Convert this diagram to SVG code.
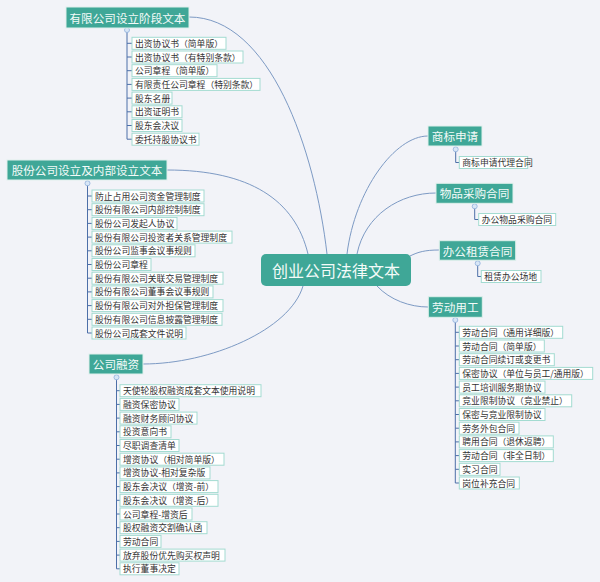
<svg xmlns="http://www.w3.org/2000/svg" width="600" height="582" viewBox="0 0 600 582">
<style>
.n{fill:#3fa797;stroke:#dff0ec;stroke-width:1}
.nt{fill:#f4fbf9;font-family:"Noto Sans CJK SC","Noto Sans",sans-serif;font-size:11.6px;text-anchor:middle;dominant-baseline:central}
.ct{font-size:16px}
.i{fill:#ffffff;stroke:#a3dbd1;stroke-width:1}
.it{fill:#333333;font-family:"Noto Sans CJK SC","Noto Sans",sans-serif;font-size:8.8px;dominant-baseline:central}
.c{fill:none;stroke:#7d9ac4;stroke-width:1}
.b{fill:none;stroke:#4d6fa8;stroke-width:1}
.d{fill:#d8e6f6;stroke:#8fb0dc;stroke-width:0.8}
</style>
<rect x="0" y="0" width="600" height="582" fill="#f2f3f8"/>
<g id="connectors">
<path class="c" d="M189,17 C270,17 315,150 327,254"/>
<path class="c" d="M167,170 C250,170 295,200 308,254"/>
<path class="c" d="M428,136 C395,136 355,190 347,254"/>
<path class="c" d="M436,193 C400,193 365,215 357,254"/>
<path class="c" d="M439,250 C425,250 418,252 410,256"/>
<path class="c" d="M377,286 C390,300 410,307 428,307"/>
<path class="c" d="M303,286 C290,330 210,364 143,364"/>
<path class="b" d="M127,30 V139.2 M127,43.3 H132 M127,57 H132 M127,70.7 H132 M127,84.4 H132 M127,98.1 H132 M127,111.8 H132 M127,125.5 H132 M127,139.2 H132"/>
<path class="b" d="M87.5,183.3 V333 M87.5,196 H92 M87.5,209.7 H92 M87.5,223.4 H92 M87.5,237.1 H92 M87.5,250.8 H92 M87.5,264.5 H92 M87.5,278.2 H92 M87.5,291.9 H92 M87.5,305.6 H92 M87.5,319.3 H92 M87.5,333 H92"/>
<path class="b" d="M116.5,377.3 V568.8 M116.5,390.7 H120 M116.5,404.4 H120 M116.5,418.1 H120 M116.5,431.8 H120 M116.5,445.5 H120 M116.5,459.2 H120 M116.5,472.9 H120 M116.5,486.6 H120 M116.5,500.3 H120 M116.5,514 H120 M116.5,527.7 H120 M116.5,541.4 H120 M116.5,555.1 H120 M116.5,568.8 H120"/>
<path class="b" d="M455.7,149.3 V162.5 H459.3"/>
<path class="b" d="M474.7,206.3 V219.5 H478.7"/>
<path class="b" d="M477.7,263.3 V276.5 H481.3"/>
<path class="b" d="M455.3,320 V483 M455.3,332.3 H459.3 M455.3,346 H459.3 M455.3,359.7 H459.3 M455.3,373.4 H459.3 M455.3,387.1 H459.3 M455.3,400.8 H459.3 M455.3,414.5 H459.3 M455.3,428.2 H459.3 M455.3,441.9 H459.3 M455.3,455.6 H459.3 M455.3,469.3 H459.3 M455.3,483 H459.3"/>
<circle class="d" cx="127" cy="30" r="2.5"/>
<circle class="d" cx="87.5" cy="183.3" r="2.5"/>
<circle class="d" cx="116.5" cy="377.3" r="2.5"/>
<circle class="d" cx="455.7" cy="149.3" r="2.5"/>
<circle class="d" cx="474.7" cy="206.3" r="2.5"/>
<circle class="d" cx="477.7" cy="263.3" r="2.5"/>
<circle class="d" cx="455.3" cy="320" r="2.5"/>
</g>
<g id="center">
<rect class="n" x="261" y="254" width="150" height="32" rx="5" style="stroke:none"/>
<text class="nt ct" x="336" y="270">创业公司法律文本</text>
</g>
<g id="youxian">
<rect class="n" x="66" y="7" width="123" height="21"/>
<text class="nt" x="127.5" y="17.5">有限公司设立阶段文本</text>
<rect class="i" x="132" y="37.3" width="94" height="12"/><text class="it" x="135" y="43.3">出资协议书（简单版）</text>
<rect class="i" x="132" y="51" width="111" height="12"/><text class="it" x="135" y="57">出资协议书（有特别条款）</text>
<rect class="i" x="132" y="64.7" width="85" height="12"/><text class="it" x="135" y="70.7">公司章程（简单版）</text>
<rect class="i" x="132" y="78.4" width="128" height="12"/><text class="it" x="135" y="84.4">有限责任公司章程（特别条款）</text>
<rect class="i" x="132" y="92.1" width="40" height="12"/><text class="it" x="135" y="98.1">股东名册</text>
<rect class="i" x="132" y="105.8" width="50" height="12"/><text class="it" x="135" y="111.8">出资证明书</text>
<rect class="i" x="132" y="119.5" width="50" height="12"/><text class="it" x="135" y="125.5">股东会决议</text>
<rect class="i" x="132" y="133.2" width="67" height="12"/><text class="it" x="135" y="139.2">委托持股协议书</text>
</g>
<g id="gufen">
<rect class="n" x="7" y="160" width="160" height="20"/>
<text class="nt" x="87" y="170">股份公司设立及内部设立文本</text>
<rect class="i" x="92" y="190" width="112" height="12"/><text class="it" x="95" y="196">防止占用公司资金管理制度</text>
<rect class="i" x="92" y="203.7" width="112" height="12"/><text class="it" x="95" y="209.7">股份有限公司内部控制制度</text>
<rect class="i" x="92" y="217.4" width="85" height="12"/><text class="it" x="95" y="223.4">股份公司发起人协议</text>
<rect class="i" x="92" y="231.1" width="140" height="12"/><text class="it" x="95" y="237.1">股份有限公司投资者关系管理制度</text>
<rect class="i" x="92" y="244.8" width="103" height="12"/><text class="it" x="95" y="250.8">股份公司监事会议事规则</text>
<rect class="i" x="92" y="258.5" width="59" height="12"/><text class="it" x="95" y="264.5">股份公司章程</text>
<rect class="i" x="92" y="272.2" width="131" height="12"/><text class="it" x="95" y="278.2">股份有限公司关联交易管理制度</text>
<rect class="i" x="92" y="285.9" width="121" height="12"/><text class="it" x="95" y="291.9">股份有限公司董事会议事规则</text>
<rect class="i" x="92" y="299.6" width="131" height="12"/><text class="it" x="95" y="305.6">股份有限公司对外担保管理制度</text>
<rect class="i" x="92" y="313.3" width="130" height="12"/><text class="it" x="95" y="319.3">股份有限公司信息披露管理制度</text>
<rect class="i" x="92" y="327" width="94" height="12"/><text class="it" x="95" y="333">股份公司成套文件说明</text>
</g>
<g id="rongzi">
<rect class="n" x="89" y="354" width="54" height="20"/>
<text class="nt" x="116" y="364">公司融资</text>
<rect class="i" x="120" y="384.7" width="141" height="12"/><text class="it" x="123" y="390.7">天使轮股权融资成套文本使用说明</text>
<rect class="i" x="120" y="398.4" width="59" height="12"/><text class="it" x="123" y="404.4">融资保密协议</text>
<rect class="i" x="120" y="412.1" width="77" height="12"/><text class="it" x="123" y="418.1">融资财务顾问协议</text>
<rect class="i" x="120" y="425.8" width="51" height="12"/><text class="it" x="123" y="431.8">投资意向书</text>
<rect class="i" x="120" y="439.5" width="59" height="12"/><text class="it" x="123" y="445.5">尽职调查清单</text>
<rect class="i" x="120" y="453.2" width="104" height="12"/><text class="it" x="123" y="459.2">增资协议（相对简单版）</text>
<rect class="i" x="120" y="466.9" width="90" height="12"/><text class="it" x="123" y="472.9">增资协议-相对复杂版</text>
<rect class="i" x="120" y="480.6" width="98" height="12"/><text class="it" x="123" y="486.6">股东会决议（增资-前）</text>
<rect class="i" x="120" y="494.3" width="98" height="12"/><text class="it" x="123" y="500.3">股东会决议（增资-后）</text>
<rect class="i" x="120" y="508" width="72" height="12"/><text class="it" x="123" y="514">公司章程-增资后</text>
<rect class="i" x="120" y="521.7" width="87" height="12"/><text class="it" x="123" y="527.7">股权融资交割确认函</text>
<rect class="i" x="120" y="535.4" width="41" height="12"/><text class="it" x="123" y="541.4">劳动合同</text>
<rect class="i" x="120" y="549.1" width="105" height="12"/><text class="it" x="123" y="555.1">放弃股份优先购买权声明</text>
<rect class="i" x="120" y="562.8" width="59" height="12"/><text class="it" x="123" y="568.8">执行董事决定</text>
</g>
<g id="shangbiao">
<rect class="n" x="428" y="126" width="54" height="20"/>
<text class="nt" x="455" y="136">商标申请</text>
<rect class="i" x="459.3" y="156.5" width="68.4" height="12"/><text class="it" x="462.3" y="162.5">商标申请代理合同</text>
</g>
<g id="caigou">
<rect class="n" x="436" y="183.3" width="77" height="20"/>
<text class="nt" x="474.5" y="193.3">物品采购合同</text>
<rect class="i" x="478.7" y="213.5" width="77" height="12"/><text class="it" x="481.7" y="219.5">办公物品采购合同</text>
</g>
<g id="zulin">
<rect class="n" x="439.3" y="240.7" width="76.4" height="19.5"/>
<text class="nt" x="477.5" y="250.5">办公租赁合同</text>
<rect class="i" x="481.3" y="270.5" width="59.7" height="12"/><text class="it" x="484.3" y="276.5">租赁办公场地</text>
</g>
<g id="laodong">
<rect class="n" x="428.3" y="296.7" width="54" height="20.6"/>
<text class="nt" x="455.3" y="307">劳动用工</text>
<rect class="i" x="459.3" y="326.3" width="103.4" height="12"/><text class="it" x="462.3" y="332.3">劳动合同（通用详细版）</text>
<rect class="i" x="459.3" y="340" width="85" height="12"/><text class="it" x="462.3" y="346">劳动合同（简单版）</text>
<rect class="i" x="459.3" y="353.7" width="95" height="12"/><text class="it" x="462.3" y="359.7">劳动合同续订或变更书</text>
<rect class="i" x="459.3" y="367.4" width="133.4" height="12"/><text class="it" x="462.3" y="373.4">保密协议（单位与员工/通用版）</text>
<rect class="i" x="459.3" y="381.1" width="85.7" height="12"/><text class="it" x="462.3" y="387.1">员工培训服务期协议</text>
<rect class="i" x="459.3" y="394.8" width="112.4" height="12"/><text class="it" x="462.3" y="400.8">竞业限制协议（竞业禁止）</text>
<rect class="i" x="459.3" y="408.5" width="85.7" height="12"/><text class="it" x="462.3" y="414.5">保密与竞业限制协议</text>
<rect class="i" x="459.3" y="422.2" width="59.7" height="12"/><text class="it" x="462.3" y="428.2">劳务外包合同</text>
<rect class="i" x="459.3" y="435.9" width="94" height="12"/><text class="it" x="462.3" y="441.9">聘用合同（退休返聘）</text>
<rect class="i" x="459.3" y="449.6" width="94" height="12"/><text class="it" x="462.3" y="455.6">劳动合同（非全日制）</text>
<rect class="i" x="459.3" y="463.3" width="40.7" height="12"/><text class="it" x="462.3" y="469.3">实习合同</text>
<rect class="i" x="459.3" y="477" width="60" height="12"/><text class="it" x="462.3" y="483">岗位补充合同</text>
</g>
</svg>
